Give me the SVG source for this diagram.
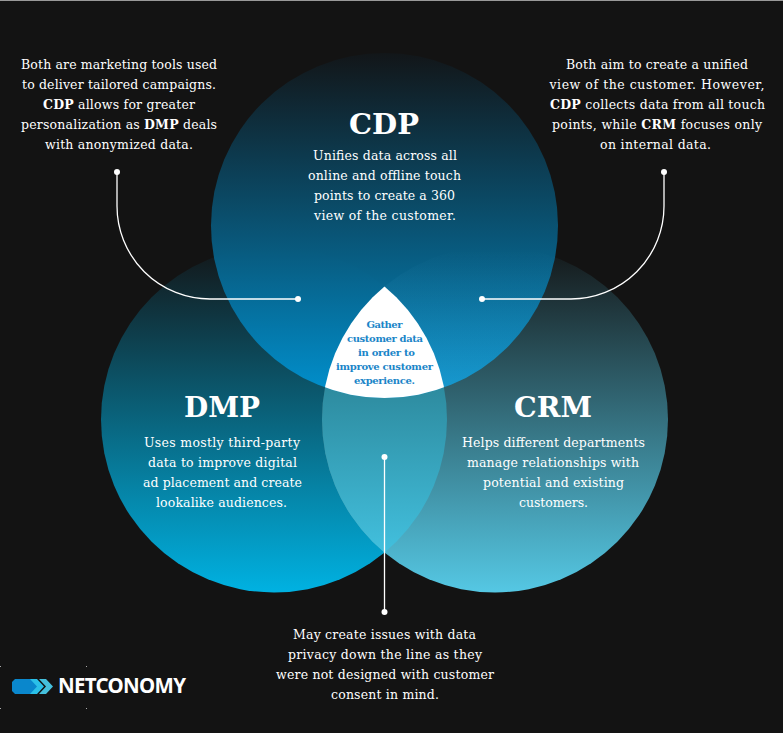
<svg xmlns="http://www.w3.org/2000/svg" width="783" height="733" viewBox="0 0 783 733">
<style>
text{font-family:"DejaVu Serif","Liberation Serif",serif;text-anchor:middle;fill:#fff}
.t{font-size:12.5px}
.h{font-size:28px;font-weight:700}
.w{font-size:10px;font-weight:700;fill:#1a85c8}
.b{font-weight:700}
.c{fill:none;stroke:#fff;stroke-width:1.3}
.d{fill:#fff}
</style>
<defs>
<linearGradient id="gDmp" gradientUnits="userSpaceOnUse" x1="0" y1="246" x2="0" y2="593"><stop offset="0" stop-color="#131618"/><stop offset="1" stop-color="#00b2e2"/></linearGradient>
<linearGradient id="gCrm" gradientUnits="userSpaceOnUse" x1="0" y1="246" x2="0" y2="593"><stop offset="0" stop-color="#141718"/><stop offset="1" stop-color="#55c8e4"/></linearGradient>
<linearGradient id="gLens" gradientUnits="userSpaceOnUse" x1="0" y1="385" x2="0" y2="553"><stop offset="0" stop-color="#2d8a9e"/><stop offset="1" stop-color="#42c0de"/></linearGradient>
<linearGradient id="gCdp" gradientUnits="userSpaceOnUse" x1="0" y1="53" x2="0" y2="398"><stop offset="0" stop-color="#121619"/><stop offset="1" stop-color="#0094d4"/></linearGradient>
<linearGradient id="gTint" gradientUnits="userSpaceOnUse" x1="0" y1="250" x2="0" y2="398"><stop offset="0" stop-color="#6fc4e4" stop-opacity="0"/><stop offset="1" stop-color="#6fc4e4" stop-opacity=".2"/></linearGradient>
<clipPath id="cDmp"><circle cx="274" cy="419.500" r="173"/></clipPath>
<clipPath id="cCrm"><circle cx="495" cy="419.500" r="173"/></clipPath>
<clipPath id="cCdp"><ellipse cx="384.500" cy="225.500" rx="173.500" ry="172.500"/></clipPath>
</defs>
<rect width="783" height="733" fill="#131313"/>
<rect width="783" height="1" fill="#999"/>
<g id="dmp-crm-circles">
<circle id="dmp-shape" cx="274" cy="419.500" r="173" fill="url(#gDmp)"/>
<circle id="crm-shape" cx="495" cy="419.500" r="173" fill="url(#gCrm)"/>
<g clip-path="url(#cDmp)"><circle cx="495" cy="419.500" r="173" fill="url(#gLens)"/></g>
</g>
<g id="cdp-shape"><ellipse cx="384.500" cy="225.500" rx="173.500" ry="172.500" fill="url(#gCdp)" opacity=".95"/>
<g clip-path="url(#cCdp)"><circle cx="495" cy="419.500" r="173" fill="url(#gTint)"/></g></g>
<g id="center">
<g clip-path="url(#cCdp)"><g clip-path="url(#cDmp)"><circle cx="495" cy="419.500" r="173" fill="#fff"/></g></g>
<text class="w" x="384.500" y="328" textLength="36">Gather</text>
<text class="w" x="385" y="342" textLength="76">customer data</text>
<text class="w" x="386.500" y="356" textLength="57">in order to</text>
<text class="w" x="384.500" y="370" textLength="97">improve customer</text>
<text class="w" x="384.500" y="384" textLength="61">experience.</text>
</g>
<g id="connectors">
<path class="c" d="M117 172V206A93 93 0 0 0 210 299H298"/>
<path class="c" d="M664 172V206A93 93 0 0 1 571 299H482"/>
<path class="c" d="M384.500 457V612"/>
<circle class="d" cx="117" cy="172" r="3"/><circle class="d" cx="298" cy="299" r="3"/>
<circle class="d" cx="664" cy="172" r="3"/><circle class="d" cx="482" cy="299" r="3"/>
<circle class="d" cx="384.500" cy="457" r="3"/><circle class="d" cx="384.500" cy="612" r="3"/>
</g>
<g id="cdp">
<text class="h" x="384" y="134" textLength="70" lengthAdjust="spacingAndGlyphs">CDP</text>
<text class="t" x="385" y="160" textLength="144">Unifies data across all</text>
<text class="t" x="384.500" y="180" textLength="153">online and offline touch</text>
<text class="t" x="384.500" y="200" textLength="141">points to create a 360</text>
<text class="t" x="385" y="220" textLength="142">view of the customer.</text>
</g>
<g id="dmp">
<text class="h" x="222" y="417" textLength="76" lengthAdjust="spacingAndGlyphs">DMP</text>
<text class="t" x="222" y="447" textLength="156">Uses mostly third-party</text>
<text class="t" x="222.500" y="467" textLength="149">data to improve digital</text>
<text class="t" x="222.500" y="487" textLength="159">ad placement and create</text>
<text class="t" x="221.500" y="507" textLength="131">lookalike audiences.</text>
</g>
<g id="crm">
<text class="h" x="553" y="417" textLength="78" lengthAdjust="spacingAndGlyphs">CRM</text>
<text class="t" x="553.500" y="447" textLength="183">Helps different departments</text>
<text class="t" x="553" y="467" textLength="172">manage relationships with</text>
<text class="t" x="553.500" y="487" textLength="141">potential and existing</text>
<text class="t" x="553.500" y="507" textLength="69">customers.</text>
</g>
<g id="note-left">
<text class="t" x="119" y="69" textLength="196">Both are marketing tools used</text>
<text class="t" x="119" y="89" textLength="194">to deliver tailored campaigns.</text>
<text class="t" x="119" y="109" textLength="152"><tspan class="b">CDP</tspan> allows for greater</text>
<text class="t" x="119" y="129" textLength="196">personalization as <tspan class="b">DMP</tspan> deals</text>
<text class="t" x="119" y="149" textLength="148">with anonymized data.</text>
</g>
<g id="note-right">
<text class="t" x="657" y="69" textLength="182">Both aim to create a unified</text>
<text class="t" x="657" y="89" textLength="215">view of the customer. However,</text>
<text class="t" x="657.500" y="109" textLength="215"><tspan class="b">CDP</tspan> collects data from all touch</text>
<text class="t" x="657" y="129" textLength="210">points, while <tspan class="b">CRM</tspan> focuses only</text>
<text class="t" x="655.500" y="149" textLength="111">on internal data.</text>
</g>
<g id="note-bottom">
<text class="t" x="384.500" y="639" textLength="183">May create issues with data</text>
<text class="t" x="385" y="659" textLength="194">privacy down the line as they</text>
<text class="t" x="385" y="679" textLength="218">were not designed with customer</text>
<text class="t" x="385" y="699" textLength="108">consent in mind.</text>
</g>
<g id="logo">
<path d="M15 679H32L39 686.500L32 694H15L12 691V682Z" fill="#0a87cc"/>
<path d="M30 679H37L44 686.500L37 694H30L37 686.500Z" fill="#2ac0e8"/>
<path d="M39 679H46L53 686.500L46 694H39L46 686.500Z" fill="#45c0dc"/>
<text x="122" y="693" style="font-family:'Noto Sans','Open Sans',sans-serif;font-size:20.500px;font-weight:700" textLength="128" fill="#f4f4f4">NETCONOMY</text>
<g fill="#aaa"><rect x="0" y="666" width="1" height="1"/><rect x="86" y="666" width="1" height="1"/><rect x="0" y="708" width="1" height="1"/><rect x="86" y="708" width="1" height="1"/></g>
</g>
</svg>
